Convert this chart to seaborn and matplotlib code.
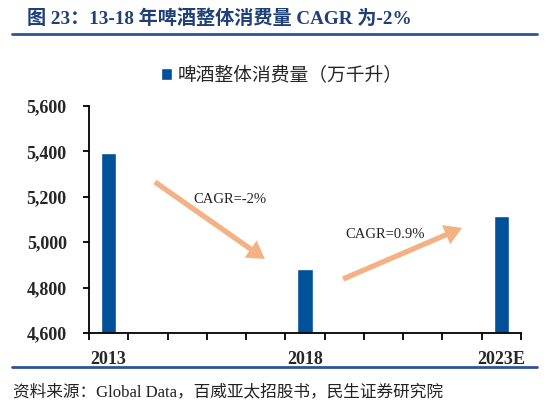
import matplotlib
matplotlib.use("Agg")
import matplotlib.pyplot as plt
import seaborn as sns
import pandas as pd
import numpy as np
from matplotlib.lines import Line2D

# data
years = ['2013', '2014', '2015', '2016', '2017', '2018',
         '2019', '2020', '2021', '2022', '2023E']
consumption = [5395, np.nan, np.nan, np.nan, np.nan, 4884,
               np.nan, np.nan, np.nan, np.nan, 5114]
shown_labels = ['2013', '2018', '2023E']
y_ticks = [4600, 4800, 5000, 5200, 5400, 5600]

series_name = '啤酒整体消费量（万千升）'
title = '图 23：13-18 年啤酒整体消费量 CAGR 为-2%'
source = '资料来源：Global Data，百威亚太招股书，民生证券研究院'

# arrow annotations (data coords: category index, value)
cagr_notes = [
    ('CAGR=-2%', (1.18, 5265), (3.98, 4926), (3.09, 5190)),
    ('CAGR=0.9%', (5.97, 4838), (9.0, 5063), (7.04, 5036)),
]

bar_color = '#00509A'
dark_blue = '#1F3F77'
line_blue = '#2F5496'
arrow_color = '#F4B183'

sns.set_theme(style='white')
fonts = ['Liberation Serif', 'Noto Sans CJK SC', 'DejaVu Sans']
plt.rcParams['font.family'] = fonts
plt.rcParams['axes.unicode_minus'] = False

df = pd.DataFrame({'year': years, 'value': consumption})

fig = plt.figure(figsize=(5.54, 4.04), dpi=100)
ax = fig.add_axes([89 / 554, 1 - 333 / 404, (521 - 89) / 554, (333 - 106) / 404])

sns.barplot(data=df, x='year', y='value', order=years, color=bar_color,
            width=0.4, saturation=1, label=series_name, ax=ax)

ax.set_xlim(-0.5, len(years) - 0.5)
ax.set_ylim(4600, 5600)
ax.set_xlabel('')
ax.set_ylabel('')

# y axis
ax.set_yticks(y_ticks)
ax.set_yticklabels([f'{v:,}' for v in y_ticks], fontsize=13, fontweight='bold')
ax.tick_params(axis='y', direction='out', length=4, width=1.3, color='black', pad=12, left=True)

# x axis: boundary ticks as major, labels on minor at category centres
ax.set_xticks(np.arange(-0.5, len(years), 1.0))
ax.set_xticklabels([])
ax.tick_params(axis='x', which='major', direction='out', length=5, width=1.3, color='black', bottom=True)
pos = [years.index(l) for l in shown_labels]
ax.set_xticks(pos, minor=True)
ax.set_xticklabels(shown_labels, minor=True, fontsize=13, fontweight='bold')
ax.tick_params(axis='x', which='minor', length=0, pad=13)

for s in ['top', 'right']:
    ax.spines[s].set_visible(False)
for s in ['left', 'bottom']:
    ax.spines[s].set_color('black')
    ax.spines[s].set_linewidth(1.3)

# CAGR arrows
for txt, start, end, tpos in cagr_notes:
    ax.annotate('', xy=end, xytext=start,
                arrowprops=dict(arrowstyle='simple,head_length=1.25,head_width=1.5,tail_width=0.38',
                                mutation_scale=10, fc=arrow_color, ec='none',
                                shrinkA=0, shrinkB=0))
    ax.text(tpos[0], tpos[1], txt, ha='center', va='center', fontsize=10.5, color='#222222')

# legend
leg = ax.legend(loc='center', bbox_to_anchor=(282 / 554, 1 - 76 / 404),
                bbox_transform=fig.transFigure, frameon=False,
                handlelength=0.6, handleheight=0.6, handletextpad=0.3,
                prop={'family': fonts, 'size': 13.5})

# title and rules
fig.text(27 / 554, 1 - 19 / 404, title, fontsize=13.8, fontweight='bold',
         color=dark_blue, va='center', ha='left')
fig.add_artist(Line2D([12 / 554, 537 / 554], [1 - 34 / 404] * 2, color=line_blue, lw=2))
fig.add_artist(Line2D([12 / 554, 537 / 554], [1 - 367 / 404] * 2, color=line_blue, lw=2))
fig.text(13 / 554, 1 - 392 / 404, source, fontsize=12, color='#222222', va='center', ha='left')

fig.savefig('out.png', dpi=100)
